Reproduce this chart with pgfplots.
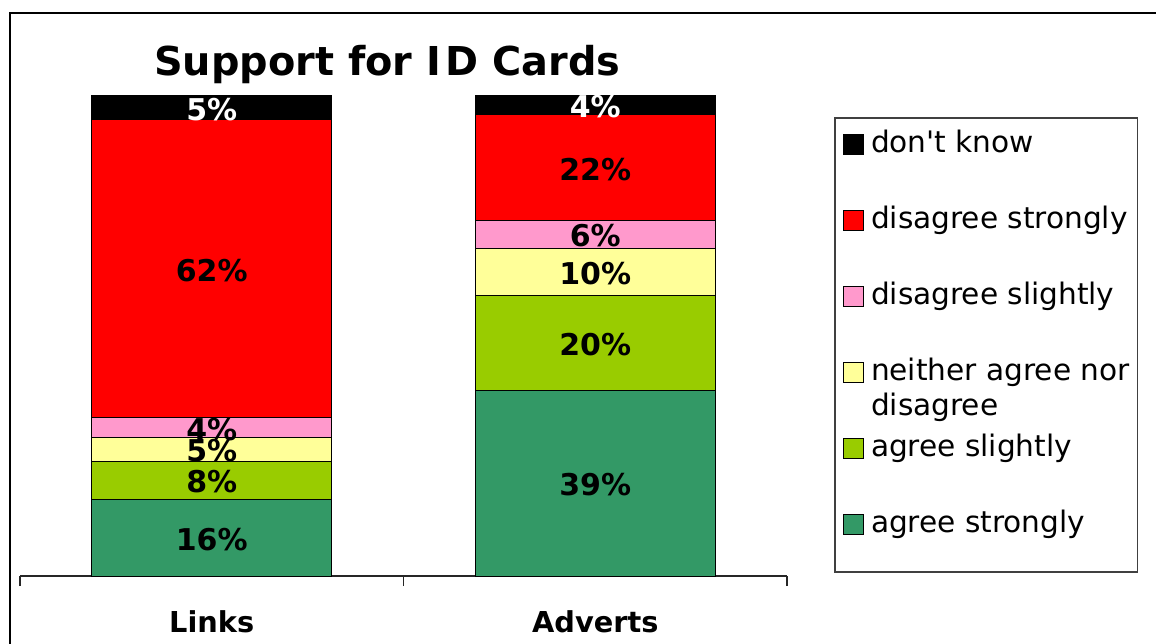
\documentclass[border=0pt]{standalone}
\usepackage{pgfplots}
\pgfplotsset{compat=1.18}
\usepackage{pgfplotstable}
\usepackage{fontspec}
\setmainfont{DejaVu Sans}
\definecolor{cAS}{HTML}{339966}
\definecolor{cAL}{HTML}{99CC00}
\definecolor{cNE}{HTML}{FFFF99}
\definecolor{cDL}{HTML}{FF99CC}
\definecolor{cDS}{HTML}{FF0000}
\definecolor{cDK}{HTML}{000000}

\pgfplotstableread{
x h lab
0 16.0 16
1 38.7 39
}\tAS
\pgfplotstableread{
x h lab
0 7.8 8
1 19.6 20
}\tAL
\pgfplotstableread{
x h lab
0 5.1 5
1 9.9 10
}\tNE
\pgfplotstableread{
x h lab
0 4.0 4
1 5.9 6
}\tDL
\pgfplotstableread{
x h lab
0 62.1 62
1 21.9 22
}\tDS
\pgfplotstableread{
x h lab
0 5.0 5
1 4.0 4
}\tDK

\begin{document}
\begin{tikzpicture}
\useasboundingbox (0,0) rectangle (578pt,321.5pt);
\draw[line width=1.2pt] (5pt,-2pt) -- (5pt,315pt) -- (582pt,315pt);
\begin{axis}[
  at={(10pt,33.5pt)}, anchor=south west,
  scale only axis, width=383.5pt, height=240.15pt,
  ybar stacked, bar width=0.6258,
  xmin=-0.5, xmax=1.5, ymin=0, ymax=100,
  axis x line*=bottom, axis y line=none,
  x axis line style={line width=0.6pt, draw=black!85, -},
  xtick={-0.5,0.5,1.5}, xticklabels={},
  major tick length=5pt, tick align=outside,
  x tick style={line width=0.6pt, black!85},
  extra x ticks={0,1}, extra x tick labels={Links,Adverts},
  extra x tick style={major tick length=0pt},
  xticklabel style={anchor=base, yshift=-28pt, font=\fontsize{14.4pt}{17pt}\selectfont\bfseries},
  point meta=explicit,
  nodes near coords={\pgfmathprintnumber[fixed,precision=0,assume math mode=true]{\pgfplotspointmeta}\%},
  every node near coord/.append style={anchor=center, yshift=-0.8pt, font=\fontsize{15pt}{17pt}\selectfont\bfseries, text=black, inner sep=0pt},
  every axis plot post/.append style={/pgfplots/legend image code/.code={\draw[##1, line width=0.5pt] (0pt,0pt) rectangle (10pt,10pt);}},
  reverse legend,
  legend cell align=left,
  legend style={at={(1.0626,0.9536)}, anchor=north west, draw=black!75, line width=0.6pt, inner xsep=4pt, inner ysep=2pt, outer sep=0pt, row sep=5pt, column sep=3.5pt, font=\fontsize{14.8pt}{17.5pt}\selectfont, nodes={inner sep=0pt, text height=15.35pt, text depth=17.65pt}},
]
\addplot[fill=cAS, draw=black, line width=0.5pt] table[x=x,y=h,meta=lab]{\tAS};
\addlegendentry{agree strongly}
\addplot[fill=cAL, draw=black, line width=0.5pt] table[x=x,y=h,meta=lab]{\tAL};
\addlegendentry{agree slightly}
\addplot[fill=cNE, draw=black, line width=0.5pt] table[x=x,y=h,meta=lab]{\tNE};
\addlegendentry{\begin{tabular}[t]{@{}l@{}}neither agree nor\\disagree\end{tabular}}
\addplot[fill=cDL, draw=black, line width=0.5pt] table[x=x,y=h,meta=lab]{\tDL};
\addlegendentry{disagree slightly}
\addplot[fill=cDS, draw=black, line width=0.5pt] table[x=x,y=h,meta=lab]{\tDS};
\addlegendentry{disagree strongly}
\addplot[fill=cDK, draw=black, line width=0.5pt, every node near coord/.append style={text=white}] table[x=x,y=h,meta=lab]{\tDK};
\addlegendentry{don\textquotesingle t know}
\end{axis}
\node[anchor=base, font=\fontsize{19.9pt}{24pt}\selectfont\bfseries] at (193.75pt,283.5pt) {Support for I\kern0.12em D Cards};
\end{tikzpicture}
\end{document}
